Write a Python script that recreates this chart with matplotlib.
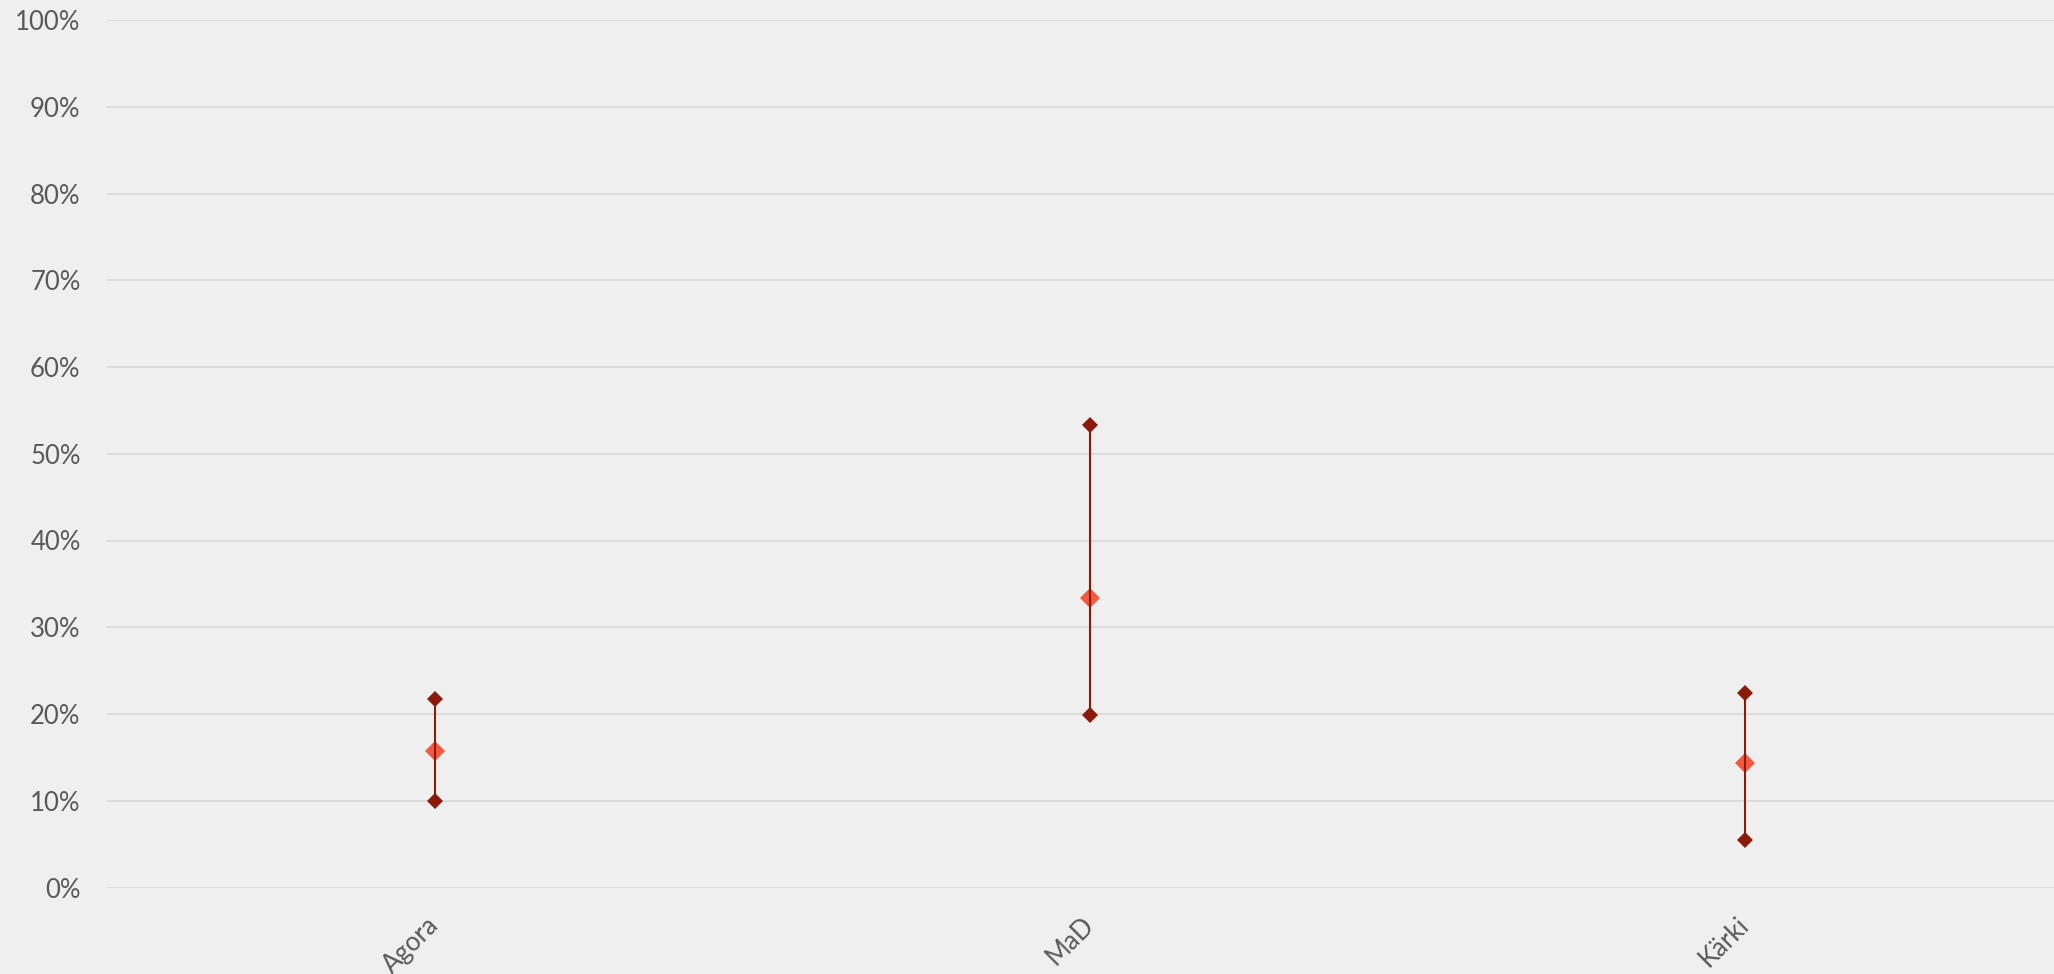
import matplotlib
matplotlib.use("Agg")
import matplotlib.pyplot as plt
from matplotlib.ticker import PercentFormatter
from matplotlib.transforms import ScaledTranslation

categories = ["Agora", "MaD", "Kärki"]
high = [0.217, 0.533, 0.224]
mid = [0.157, 0.334, 0.143]
low = [0.100, 0.199, 0.055]
yticks = [0.0, 0.1, 0.2, 0.3, 0.4, 0.5, 0.6, 0.7, 0.8, 0.9, 1.0]

plt.rcParams['font.family'] = ['Lato', 'DejaVu Sans']

W, H = 2054, 974
fig = plt.figure(figsize=(W / 100, H / 100), dpi=100)
bg = '#EFEFEF'
fig.patch.set_facecolor(bg)

left_px, zero_px, top_px = 107, 887.5, 20
ax = fig.add_axes([left_px / W, (H - zero_px) / H, (W - left_px) / W, (zero_px - top_px) / H])
ax.set_facecolor(bg)

x = list(range(len(categories)))
dark = '#8B1A0B'
light = '#F4583F'

ax.plot(x, mid, linestyle='none', marker='D', ms=10.3, color=light, mew=0, zorder=3)
ax.vlines(x, low, high, color=dark, linewidth=1.5, zorder=4)
ax.plot(x, high, linestyle='none', marker='D', ms=8.2, color=dark, mew=0, zorder=5)
ax.plot(x, low, linestyle='none', marker='D', ms=8.2, color=dark, mew=0, zorder=5)

ax.set_ylim(0, 1)
ax.set_xlim(-0.5, -0.5 + (W - left_px) / 655)
ax.set_yticks(yticks)
ax.yaxis.set_major_formatter(PercentFormatter(1.0, decimals=0))
ax.grid(axis='y', color='#D9D9D9', linewidth=1.3, zorder=0)
ax.set_axisbelow(True)
for s in ax.spines.values():
    s.set_visible(False)

ax.set_xticks(x)
ax.set_xticklabels(categories, rotation=45, ha='right', rotation_mode='default')
ax.tick_params(axis='y', length=0, pad=19, labelsize=18.5, labelcolor='#595959')
ax.tick_params(axis='x', length=0, pad=18, labelsize=18.5, labelcolor='#595959')
off = ScaledTranslation(9 / 100, 0, fig.dpi_scale_trans)
for lab in ax.get_xticklabels():
    lab.set_transform(lab.get_transform() + off)

fig.savefig('out.png', dpi=100, facecolor=bg)
